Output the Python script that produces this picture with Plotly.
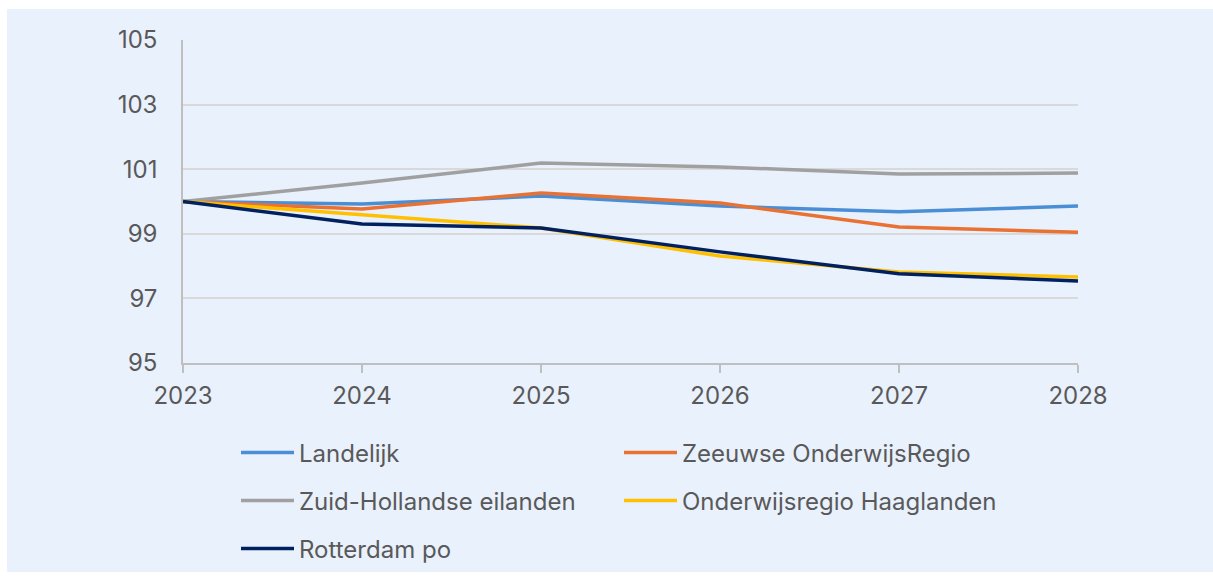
import plotly.graph_objects as go

# Data (index, 2023 = 100).
years = [2023, 2024, 2025, 2026, 2027, 2028]
landelijk = [100, 99.92, 100.17, 99.86, 99.68, 99.86]
zeeuwse = [100, 99.77, 100.26, 99.95, 99.21, 99.05]
zuid_hollandse = [100, 100.57, 101.19, 101.07, 100.85, 100.88]
haaglanden = [100, 99.58, 99.18, 98.31, 97.82, 97.66]
rotterdam = [100, 99.30, 99.18, 98.44, 97.76, 97.54]

y_ticks = [95, 97, 99, 101, 103, 105]

series = [
    ('Landelijk', landelijk, '#4A8FD6', 'legend'),
    ('Zeeuwse OnderwijsRegio', zeeuwse, '#E97132', 'legend'),
    ('Zuid-Hollandse eilanden', zuid_hollandse, '#A0A0A0', 'legend2'),
    ('Onderwijsregio Haaglanden', haaglanden, '#FFC000', 'legend2'),
    ('Rotterdam po', rotterdam, '#002060', 'legend3'),
]

font_family = 'Inter'
text_color = '#595959'
bg_color = '#E9F1FD'

# Plot area in pixels: x 183..1078, y 40..363 in a 1213x577 page.
W, H = 1213, 577
L, R, T, B = 183, 1078, 40, 363


def px_x(p):
    return (p - L) / (R - L)


def px_y(p):
    return (B - p) / (B - T)


traces = []
for name, values, color, legend in series:
    traces.append(
        go.Scatter(
            x=years,
            y=values,
            mode='lines',
            name=name,
            legend=legend,
            line=dict(color=color, width=3.5),
        )
    )

legend_common = dict(
    orientation='h',
    xanchor='left',
    yanchor='middle',
    entrywidth=315,
    entrywidthmode='pixels',
    bgcolor='rgba(0,0,0,0)',
    font=dict(family=font_family, size=24, color=text_color),
    itemwidth=53,
)

layout = dict(
    width=W,
    height=H,
    paper_bgcolor='white',
    plot_bgcolor='rgba(0,0,0,0)',
    # Fixed margins: the legends must not push the plot area around.
    margin=dict(l=L, r=W - R, t=T, b=H - B, pad=0, autoexpand=False),
    font=dict(family=font_family, size=24, color=text_color),
    showlegend=True,
    legend=dict(x=px_x(236), y=px_y(453), **legend_common),
    legend2=dict(x=px_x(236), y=px_y(501), **legend_common),
    legend3=dict(x=px_x(236), y=px_y(549), **legend_common),
    xaxis=dict(
        range=[2023, 2028],
        tickvals=years,
        ticktext=[str(y) for y in years],
        showgrid=False,
        zeroline=False,
        showline=True,
        linecolor='#BFBFBF',
        linewidth=1.5,
        ticks='outside',
        ticklen=8,
        tickwidth=1.5,
        tickcolor='#BFBFBF',
        ticklabelstandoff=2,
        tickfont=dict(family=font_family, size=24, color=text_color),
    ),
    yaxis=dict(
        range=[95, 105],
        tickvals=y_ticks,
        showgrid=True,
        gridcolor='#D9D9D9',
        gridwidth=1.5,
        zeroline=False,
        showline=True,
        linecolor='#BFBFBF',
        linewidth=1.5,
        ticks='',
        ticklabelstandoff=19,
        tickfont=dict(family=font_family, size=24, color=text_color),
    ),
    shapes=[
        dict(
            type='rect',
            xref='paper',
            yref='paper',
            x0=px_x(7),
            x1=px_x(1213),
            y0=px_y(572),
            y1=px_y(9),
            fillcolor=bg_color,
            line=dict(width=0),
            layer='below',
        )
    ],
)

fig = go.Figure(data=traces, layout=layout)
# Remove the default body margin so the figure sits at the page origin.
fig.write_html(
    'out.html',
    config=dict(displayModeBar=False),
    post_script="document.body.style.margin='0';",
)
